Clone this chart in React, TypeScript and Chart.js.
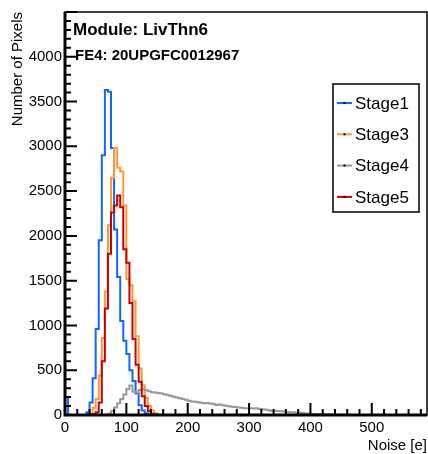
import React, { useEffect, useRef } from "react";
import { Chart, registerables } from "chart.js";

Chart.register(...registerables);

// ---------- data ----------
const BIN_WIDTH = 5; // bin width in electrons; value i is the bin starting at i*BIN_WIDTH
const X_MIN = 0;
const X_MAX = 590;
const Y_MIN = 0;
const Y_MAX = 4500;
const X_TICKS = [0, 100, 200, 300, 400, 500];
const Y_TICKS = [0, 500, 1000, 1500, 2000, 2500, 3000, 3500, 4000];

const SERIES_LABELS = ["Stage1", "Stage3", "Stage4", "Stage5"];
const SERIES_COLORS = ["#1166ff", "#ff9933", "#999999", "#cc0000"];

const STAGE1 = [
  200, 0, 0, 0, 0, 0, 0, 30, 140, 410, 960, 1950, 2900, 3630, 3610, 2980, 2070,
  1540, 1050, 830, 680, 500, 380, 240, 110, 50, 20, 8, 0,
];
const STAGE3 = [
  0, 0, 0, 0, 0, 0, 0, 0, 10, 80, 180, 440, 860, 1380, 2120, 2650, 2980, 2760,
  2720, 2340, 1520, 1450, 1270, 880, 520, 330, 190, 100, 50, 20, 5, 0,
];
const STAGE4 = [
  0, 0, 0, 0, 0, 0, 0, 0, 0, 0, 0, 0, 0, 0, 15, 45, 85, 130, 180, 230, 290, 330,
  260, 250, 280, 290, 275, 265, 255, 250, 245, 240, 232, 222, 215, 205, 195,
  188, 180, 170, 160, 152, 148, 142, 138, 130, 135, 128, 122, 112, 118, 108,
  102, 98, 92, 90, 85, 82, 76, 74, 75, 72, 74, 68, 64, 58, 52, 46, 48, 44, 42,
  38, 34, 30, 30, 26, 24, 22, 18, 16, 14, 12, 12, 10, 8, 7, 6, 5, 4, 4, 3, 2,
  2, 1, 1, 0,
];
const STAGE5 = [
  0, 0, 0, 0, 0, 0, 0, 0, 0, 10, 30, 140, 600, 1190, 1800, 2260, 2340, 2450,
  2320, 1850, 1700, 1250, 850, 560, 370, 210, 100, 45, 15, 5, 0,
];
const SERIES_VALUES = [STAGE1, STAGE3, STAGE4, STAGE5];

const TITLE_LINE1 = "Module: LivThn6";
const TITLE_LINE2 = "FE4: 20UPGFC0012967";
const X_TITLE = "Noise [e]";
const Y_TITLE = "Number of Pixels";

// ---------- style ----------
const FONT = '"Liberation Sans", Arial, Helvetica, sans-serif';
const W = 428;
const H = 454;

const toPoints = (vals: number[]) => {
  const pts = vals.map((v, i) => ({ x: i * BIN_WIDTH, y: v }));
  pts.push({ x: X_MAX, y: 0 });
  return pts;
};

const rootPlugin = {
  id: "rootStyle",
  afterDatasetsDraw(chart: any) {
    const { ctx, chartArea, scales } = chart;
    const { left, right, top, bottom } = chartArea;
    const xs = scales.x;
    const ys = scales.y;
    ctx.save();
    ctx.strokeStyle = "#000";
    // frame
    ctx.lineWidth = 1.5;
    ctx.strokeRect(left, top, right - left, bottom - top);
    // main axes
    ctx.lineWidth = 3;
    ctx.beginPath();
    ctx.moveTo(left, top);
    ctx.lineTo(left, bottom);
    ctx.lineTo(right, bottom);
    ctx.stroke();
    // ticks (inside)
    ctx.lineWidth = 2;
    ctx.beginPath();
    for (let k = 0; k * 20 <= X_MAX; k++) {
      const v = k * 20;
      const px = xs.getPixelForValue(v);
      const len = v % 100 === 0 ? 12 : 6;
      ctx.moveTo(px, bottom);
      ctx.lineTo(px, bottom - len);
    }
    for (let k = 0; k * 100 <= Y_MAX; k++) {
      const v = k * 100;
      const py = ys.getPixelForValue(v);
      const len = v % 500 === 0 ? 12 : 6;
      ctx.moveTo(left, py);
      ctx.lineTo(left + len, py);
    }
    ctx.stroke();
    ctx.restore();
  },
  afterDraw(chart: any) {
    const { ctx } = chart;
    ctx.save();
    // titles
    ctx.fillStyle = "#000";
    ctx.textBaseline = "alphabetic";
    ctx.textAlign = "left";
    ctx.font = `bold 17px ${FONT}`;
    ctx.fillText(TITLE_LINE1, 73, 35);
    ctx.font = `bold 15px ${FONT}`;
    ctx.fillText(TITLE_LINE2, 75, 60);

    // legend
    const bx = 333, by = 84, bw = 86, bh = 128;
    ctx.fillStyle = "#fff";
    ctx.fillRect(bx, by, bw, bh);
    ctx.strokeStyle = "#000";
    ctx.lineWidth = 1.5;
    ctx.strokeRect(bx, by, bw, bh);
    ctx.font = `17px ${FONT}`;
    ctx.textBaseline = "middle";
    SERIES_LABELS.forEach((lab, i) => {
      const yy = 103 + i * 31.3;
      ctx.strokeStyle = SERIES_COLORS[i];
      ctx.lineWidth = 2;
      ctx.beginPath();
      ctx.moveTo(337, yy);
      ctx.lineTo(352, yy);
      ctx.stroke();
      ctx.fillStyle = "#000";
      ctx.fillRect(343.5, yy - 1, 2, 2);
      ctx.fillText(lab, 355, yy + 1);
    });
    ctx.restore();
  },
};

export default function App() {
  const ref = useRef<HTMLCanvasElement | null>(null);

  useEffect(() => {
    if (!ref.current) return;
    Chart.defaults.font.family = FONT;
    const orders = [4, 3, 2, 1];
    const chart = new Chart(ref.current, {
      type: "line",
      data: {
        datasets: SERIES_VALUES.map((vals, i) => ({
          label: SERIES_LABELS[i],
          data: toPoints(vals),
          borderColor: SERIES_COLORS[i],
          backgroundColor: SERIES_COLORS[i],
          borderWidth: 2,
          pointRadius: 0,
          stepped: "before",
          fill: false,
          tension: 0,
          order: orders[i],
        })),
      },
      options: {
        animation: false,
        responsive: false,
        maintainAspectRatio: false,
        devicePixelRatio: 1,
        layout: { padding: { top: 7, right: 1, left: 0, bottom: 0 } },
        plugins: {
          legend: { display: false },
          tooltip: { enabled: false },
          title: { display: false },
        },
        scales: {
          x: {
            type: "linear",
            min: X_MIN,
            max: X_MAX,
            grid: { display: false, drawTicks: false },
            border: { display: false },
            afterBuildTicks: (s: any) => {
              s.ticks = X_TICKS.map((v) => ({ value: v }));
            },
            afterFit: (s: any) => {
              s.height = 39;
            },
            ticks: {
              font: { family: FONT, size: 15 },
              color: "#000",
              padding: 4,
              maxRotation: 0,
              autoSkip: false,
              callback: (v: any) => String(v),
            },
            title: {
              display: true,
              text: X_TITLE,
              align: "end",
              color: "#000",
              font: { family: FONT, size: 15 },
              padding: { top: 0, bottom: -1 },
            },
          },
          y: {
            type: "linear",
            min: Y_MIN,
            max: Y_MAX,
            grid: { display: false, drawTicks: false },
            border: { display: false },
            afterBuildTicks: (s: any) => {
              s.ticks = Y_TICKS.map((v) => ({ value: v }));
            },
            afterFit: (s: any) => {
              s.width = 65;
            },
            ticks: {
              font: { family: FONT, size: 15 },
              color: "#000",
              padding: 3,
              autoSkip: false,
              callback: (v: any) => String(v),
            },
            title: {
              display: true,
              text: Y_TITLE,
              align: "end",
              color: "#000",
              font: { family: FONT, size: 15 },
              padding: { top: 9, bottom: 0 },
            },
          },
        },
      },
      plugins: [rootPlugin],
    } as any);
    return () => chart.destroy();
  }, []);

  return (
    <div style={{ position: "fixed", left: 0, top: 0, width: W, height: H, background: "#fff" }}>
      <canvas ref={ref} width={W} height={H} style={{ width: W, height: H, display: "block" }} />
    </div>
  );
}
